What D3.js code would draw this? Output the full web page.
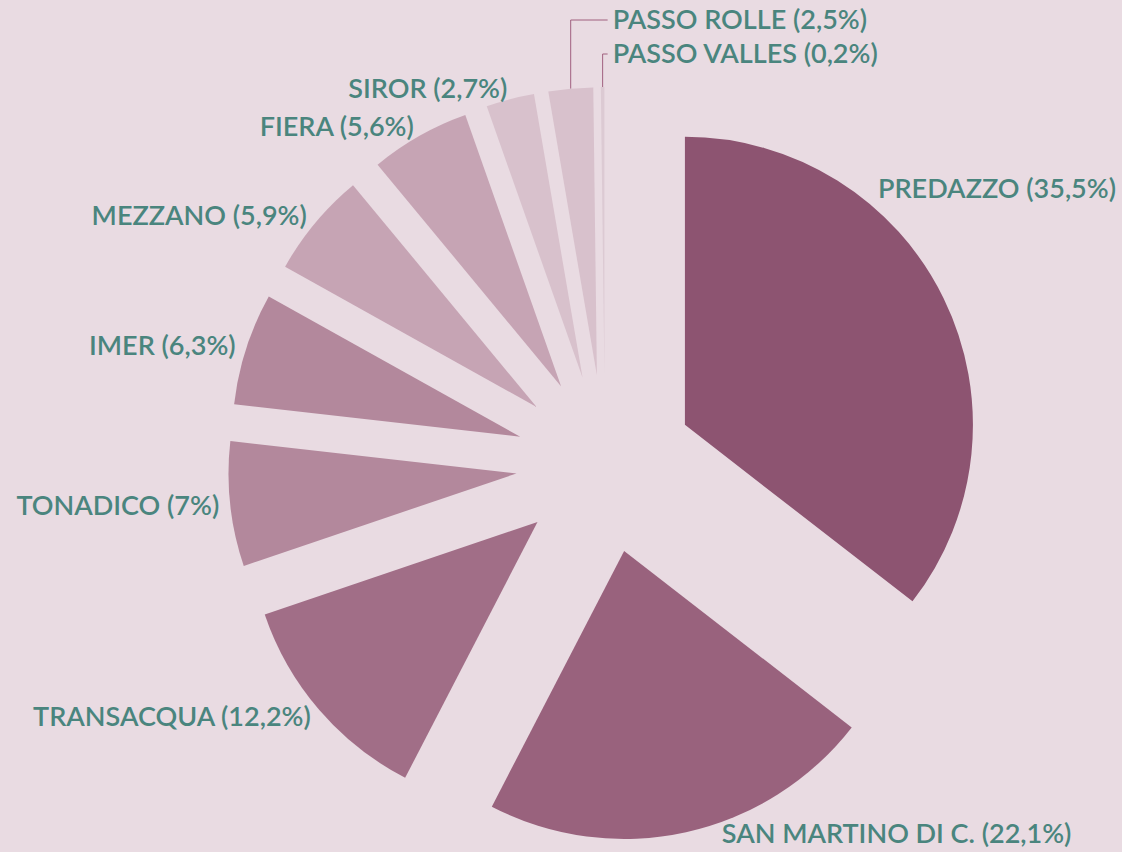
<!DOCTYPE html>
<html>
<head>
<meta charset="utf-8">
<script src="https://cdn.jsdelivr.net/npm/d3@7"></script>
<style>
  html, body { margin: 0; padding: 0; background: #e9dbe2; }
  svg { display: block; }
  text { font-family: Lato, "Noto Sans", sans-serif; }
</style>
</head>
<body>
<script>
const [w, h] = [1122, 852];

// data, clockwise from 12 o'clock
const comuni = ['PREDAZZO', 'SAN MARTINO DI C.', 'TRANSACQUA', 'TONADICO', 'IMER', 'MEZZANO', 'FIERA', 'SIROR', 'PASSO ROLLE', 'PASSO VALLES'];
const quote = [35.5, 22.1, 12.2, 7, 6.3, 5.9, 5.6, 2.7, 2.5, 0.2];

const slice_colors = ['#8d5471', '#99627d', '#a16e87', '#b3889c', '#b3889c', '#c6a4b4', '#c6a4b4', '#d8c1cc', '#d8c1cc', '#dccad3'];

const center = [605, 464];
const radius = 288;
const explode = 89;
const label_r = 388;
const font_size = 27;
const font_weight = 600;

const svg = d3.select('body').append('svg')
  .attr('width', w)
  .attr('height', h);

const data = comuni.map((name, i) => ({ name: name, value: quote[i], i: i }));
const arcs = d3.pie().sort(null).value(d => d.value)(data);
const arc = d3.arc().innerRadius(0).outerRadius(radius);

const mid = d => (d.startAngle + d.endAngle) / 2;

const g = svg.append('g').attr('transform', `translate(${center[0]}, ${center[1]})`);

g.selectAll('path.slice')
  .data(arcs)
  .enter()
  .append('path')
  .attr('class', 'slice')
  .attr('d', arc)
  .attr('fill', d => slice_colors[d.data.i])
  .attr('transform', d => `translate(${explode * Math.sin(mid(d))}, ${-explode * Math.cos(mid(d))})`);

// label layout: labels on a circle around the centre, pushed apart, top overflow goes to callouts
let fmt = v => `${String(v).replace('.', ',')}%`;

let labels = arcs.map(d => {
  let a = mid(d);
  return {
    arc: d,
    text: `${d.data.name} (${fmt(d.data.value)})`,
    side: Math.sin(a) >= 0 ? 'right' : 'left',
    y: -Math.cos(a) * label_r,
    // exploded outer point of the slice
    ax: (explode + radius) * Math.sin(a),
    ay: -(explode + radius) * Math.cos(a),
    callout: false
  };
});

// measure text widths
const meas = svg.append('text').attr('font-size', font_size).attr('font-weight', font_weight);
labels.forEach(l => { meas.text(l.text); l.width = meas.node().getComputedTextLength(); });
meas.remove();

const gap = 30;
const top_limit = -label_r;
const bottom_limit = h - center[1] - 18;

// left side, from the bottom upward
let left = labels.filter(l => l.side === 'left').sort((a, b) => b.y - a.y);
let lastY = Infinity;
left.forEach(l => {
  if (l.y > lastY - gap) l.y = lastY - gap;
  if (l.y < top_limit) { l.callout = true; return; }
  lastY = l.y;
});

labels.forEach(l => {
  if (l.callout) return;
  l.y = Math.min(l.y, bottom_limit);
  let dx = Math.sqrt(Math.max(0, label_r * label_r - l.y * l.y));
  if (l.side === 'left') {
    l.x = -dx;
  } else {
    l.x = dx;
    let maxX = w - center[0] - 6 - l.width;
    if (l.x > maxX) {
      l.x = maxX;
      let dy = Math.sqrt(label_r * label_r - l.x * l.x);
      l.y = l.y < 0 ? -dy : dy;
    }
  }
});

// callouts stacked at the top right of the pie
let callouts = labels.filter(l => l.callout);
let callout_x = d3.max(callouts, l => l.ax) + 10;
callouts.forEach((l, k) => {
  l.side = 'right';
  l.x = callout_x;
  l.y = 20 - center[1] + k * 34;
});

g.selectAll('path.connector')
  .data(callouts)
  .enter()
  .append('path')
  .attr('class', 'connector')
  .attr('fill', 'none')
  .attr('stroke', '#a0607f')
  .attr('stroke-width', 1)
  .attr('d', l => `M${l.ax},${l.ay}V${l.y}H${l.x - 5}`);

g.selectAll('text.label')
  .data(labels)
  .enter()
  .append('text')
  .attr('class', 'label')
  .attr('x', l => l.x)
  .attr('y', l => l.y)
  .attr('dy', '0.35em')
  .attr('text-anchor', l => l.side === 'left' ? 'end' : 'start')
  .attr('font-size', font_size)
  .attr('font-weight', font_weight)
  .attr('fill', '#4a857e')
  .text(l => l.text);
</script>
</body>
</html>
